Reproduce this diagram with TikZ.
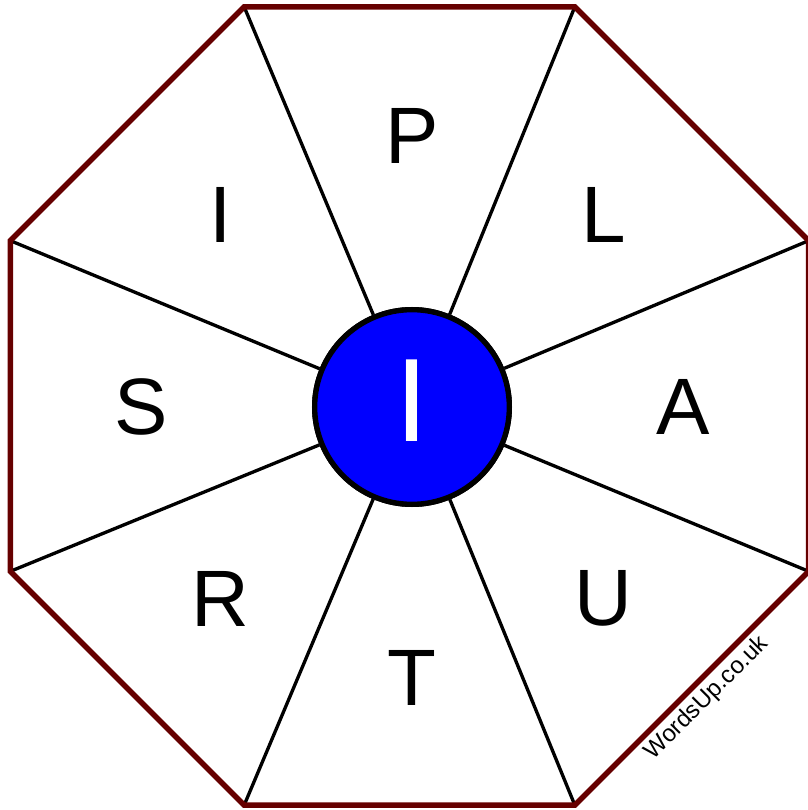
\documentclass[tikz,border=0pt]{standalone}
\usepackage{fontspec}
\setmainfont{Liberation Sans}
\definecolor{rimred}{HTML}{660000}
\begin{document}
\begin{tikzpicture}[x=.75pt,y=.75pt,
                    spoke/.style={line width=2.5pt,black},
                    rim/.style={line width=4.1pt,draw=rimred},
                    hub/.style={circle,draw,fill=blue,line width=4pt,inner sep=0pt,minimum size=146pt},
                    letter/.style={inner sep=0pt,font=\fontsize{60}{60}\selectfont}]
 \path[use as bounding box] (-412,-403) (395,407);
 \begin{scope}[shift={(-2.5,1)}]
  \coordinate (v1) at (22.5:432);  \coordinate (v2) at (67.5:432);
  \coordinate (v3) at (112.5:432); \coordinate (v4) at (157.5:432);
  \coordinate (v5) at (202.5:432); \coordinate (v6) at (247.5:432);
  \coordinate (v7) at (292.5:432); \coordinate (v8) at (337.5:432);
 \end{scope}
 \node[hub] (c) at (0,0) {};
 \draw[spoke] (c)--(v1); \draw[spoke] (c)--(v2); \draw[spoke] (c)--(v3); \draw[spoke] (c)--(v4);
 \draw[spoke] (c)--(v5); \draw[spoke] (c)--(v6); \draw[spoke] (c)--(v7); \draw[spoke] (c)--(v8);
 \draw[rim] (v1)--(v2)--(v3)--(v4)--(v5)--(v6)--(v7)--(v8)--cycle;
 \node[hub] (c) at (0,0) {};
 \node[letter,text=white,font=\fontsize{89}{89}\selectfont] (mid) at ([yshift=4.8pt]c) {I};
 \node[letter] (lp) at (90:271) {P};
 \node[letter] (ll) at (45:271) {L};
 \node[letter] (la) at (0:271) {A};
 \node[letter] (lu) at (-45:271) {U};
 \node[letter] (lt) at (-90:271) {T};
 \node[letter] (lr) at (-135:271) {R};
 \node[letter] (ls) at (180:271) {S};
 \node[letter] (li) at (135:271) {I};
 \node[rotate=45,inner sep=0pt,font=\fontsize{18}{18}\selectfont] (site) at (295,-291) {WordsUp.co.uk};
\end{tikzpicture}
\end{document}
